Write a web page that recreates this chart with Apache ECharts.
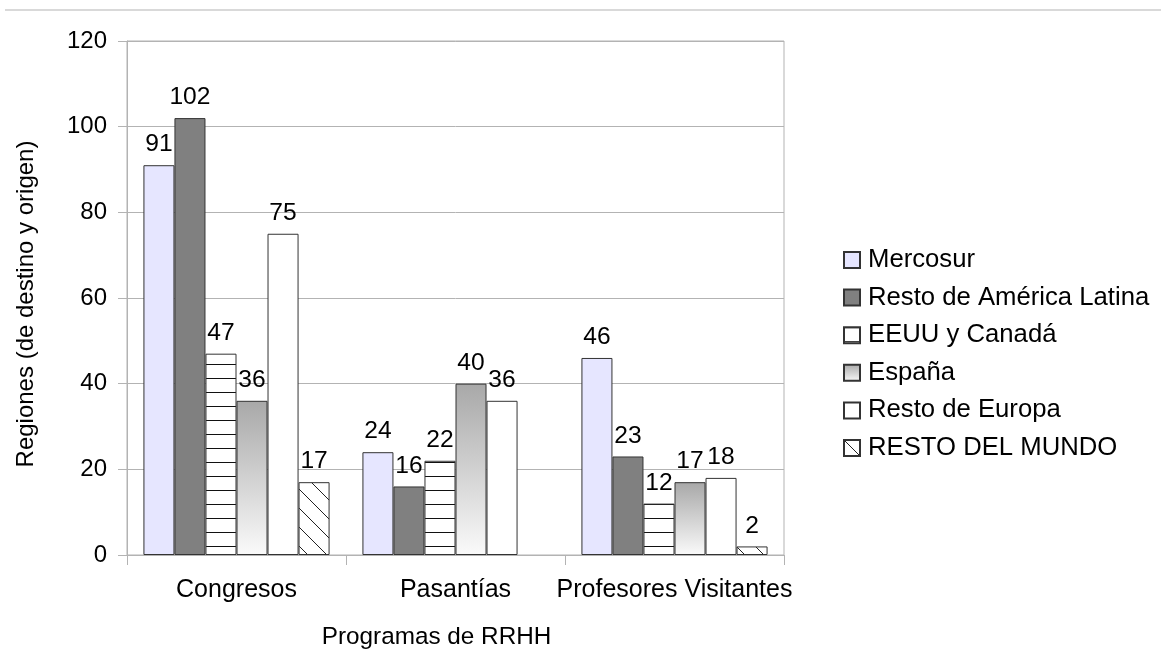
<!DOCTYPE html>
<html>
<head>
<meta charset="utf-8">
<script src="https://cdn.jsdelivr.net/npm/echarts@6/dist/echarts.min.js"></script>
<style>
html,body{margin:0;padding:0;background:#fff;}
#chart{width:1161px;height:650px;}
</style>
</head>
<body>
<div id="chart"></div>
<script>
const categories = ['Congresos', 'Pasantías', 'Profesores Visitantes'];
const seriesNames = ['Mercosur', 'Resto de América Latina', 'EEUU y Canadá', 'España', 'Resto de Europa', 'RESTO DEL MUNDO'];
const mercosur = [91, 24, 46];
const restoAmericaLatina = [102, 16, 23];
const eeuuCanada = [47, 22, 12];
const espana = [36, 40, 17];
const restoEuropa = [75, 36, 18];
const restoMundo = [17, null, 2];
const yTicks = [0, 20, 40, 60, 80, 100, 120];

function hLinesPattern() {
  const c = document.createElement('canvas');
  c.width = 8; c.height = 14;
  const ctx = c.getContext('2d');
  ctx.fillStyle = '#fff'; ctx.fillRect(0, 0, 8, 14);
  ctx.strokeStyle = '#111'; ctx.lineWidth = 1;
  ctx.beginPath(); ctx.moveTo(0, 0.5); ctx.lineTo(8, 0.5); ctx.stroke();
  return { image: c, repeat: 'repeat' };
}
function hatchPattern() {
  const s = 19;
  const c = document.createElement('canvas');
  c.width = s; c.height = s;
  const ctx = c.getContext('2d');
  ctx.fillStyle = '#fff'; ctx.fillRect(0, 0, s, s);
  ctx.strokeStyle = '#222'; ctx.lineWidth = 1;
  ctx.beginPath();
  for (let k = -1; k <= 1; k++) { ctx.moveTo(0, k * s); ctx.lineTo(s, s + k * s); }
  ctx.stroke();
  return { image: c, repeat: 'repeat' };
}

const colors = [
  '#e6e6ff',
  '#808080',
  hLinesPattern(),
  { type: 'linear', x: 0, y: 0, x2: 0, y2: 1, colorStops: [{ offset: 0, color: '#a8a8a8' }, { offset: 1, color: '#fafafa' }] },
  '#ffffff',
  hatchPattern()
];
const dataArrays = [mercosur, restoAmericaLatina, eeuuCanada, espana, restoEuropa, restoMundo];
const FONT = 'Liberation Sans, Arial, sans-serif';

const chart = echarts.init(document.getElementById('chart'), null, { renderer: 'canvas' });
chart.setOption({
  animation: false,
  textStyle: { fontFamily: FONT },
  graphic: [{
    type: 'line', shape: { x1: 5, y1: 10, x2: 1161, y2: 10 },
    style: { stroke: '#d9d9d9', lineWidth: 2 }
  }],
  grid: { left: 127, right: 377, top: 41, bottom: 95, show: true, borderColor: '#b3b3b3', borderWidth: 1,
    containLabel: false, outerBoundsMode: 'none' },
  legend: {
    orient: 'vertical', left: 838, top: 242,
    icon: 'rect',
    itemWidth: 16, itemHeight: 16, itemGap: 11.6,
    textStyle: { fontSize: 25.7, color: '#000', fontFamily: FONT, padding: [0, 0, 0, 3] },
    data: seriesNames
  },
  xAxis: {
    type: 'category', data: categories,
    axisLine: { lineStyle: { color: '#b3b3b3' } },
    axisTick: { show: true, length: 10, lineStyle: { color: '#b3b3b3' } },
    axisLabel: { interval: 0, fontSize: 25, color: '#000', margin: 23, fontFamily: FONT },
    name: 'Programas de RRHH', nameLocation: 'middle', nameGap: 70,
    nameTextStyle: { fontSize: 24.3, color: '#000', fontFamily: FONT, padding: [0, 38, 0, 0] }
  },
  yAxis: {
    type: 'value', min: 0, max: 120, interval: 20,
    axisLine: { show: true, lineStyle: { color: '#b3b3b3' } },
    axisTick: { show: true, length: 9, lineStyle: { color: '#b3b3b3' } },
    splitLine: { lineStyle: { color: '#b3b3b3' } },
    axisLabel: { fontSize: 24, color: '#000', margin: 20, fontFamily: FONT,
      formatter: v => yTicks.includes(v) ? String(v) : '' },
    name: 'Regiones (de destino y origen)', nameLocation: 'middle', nameGap: 89,
    nameTextStyle: { fontSize: 24, color: '#000', fontFamily: FONT, padding: [0, 12, 0, 0] }
  },
  series: seriesNames.map((n, i) => ({
    name: n, type: 'bar', data: dataArrays[i],
    barGap: 0, barCategoryGap: '15%',
    itemStyle: { color: colors[i], borderColor: '#333', borderWidth: 1 },
    label: { show: true, position: 'top', distance: 8, fontSize: 24.6, color: '#000', fontFamily: FONT }
  }))
});
</script>
</body>
</html>
